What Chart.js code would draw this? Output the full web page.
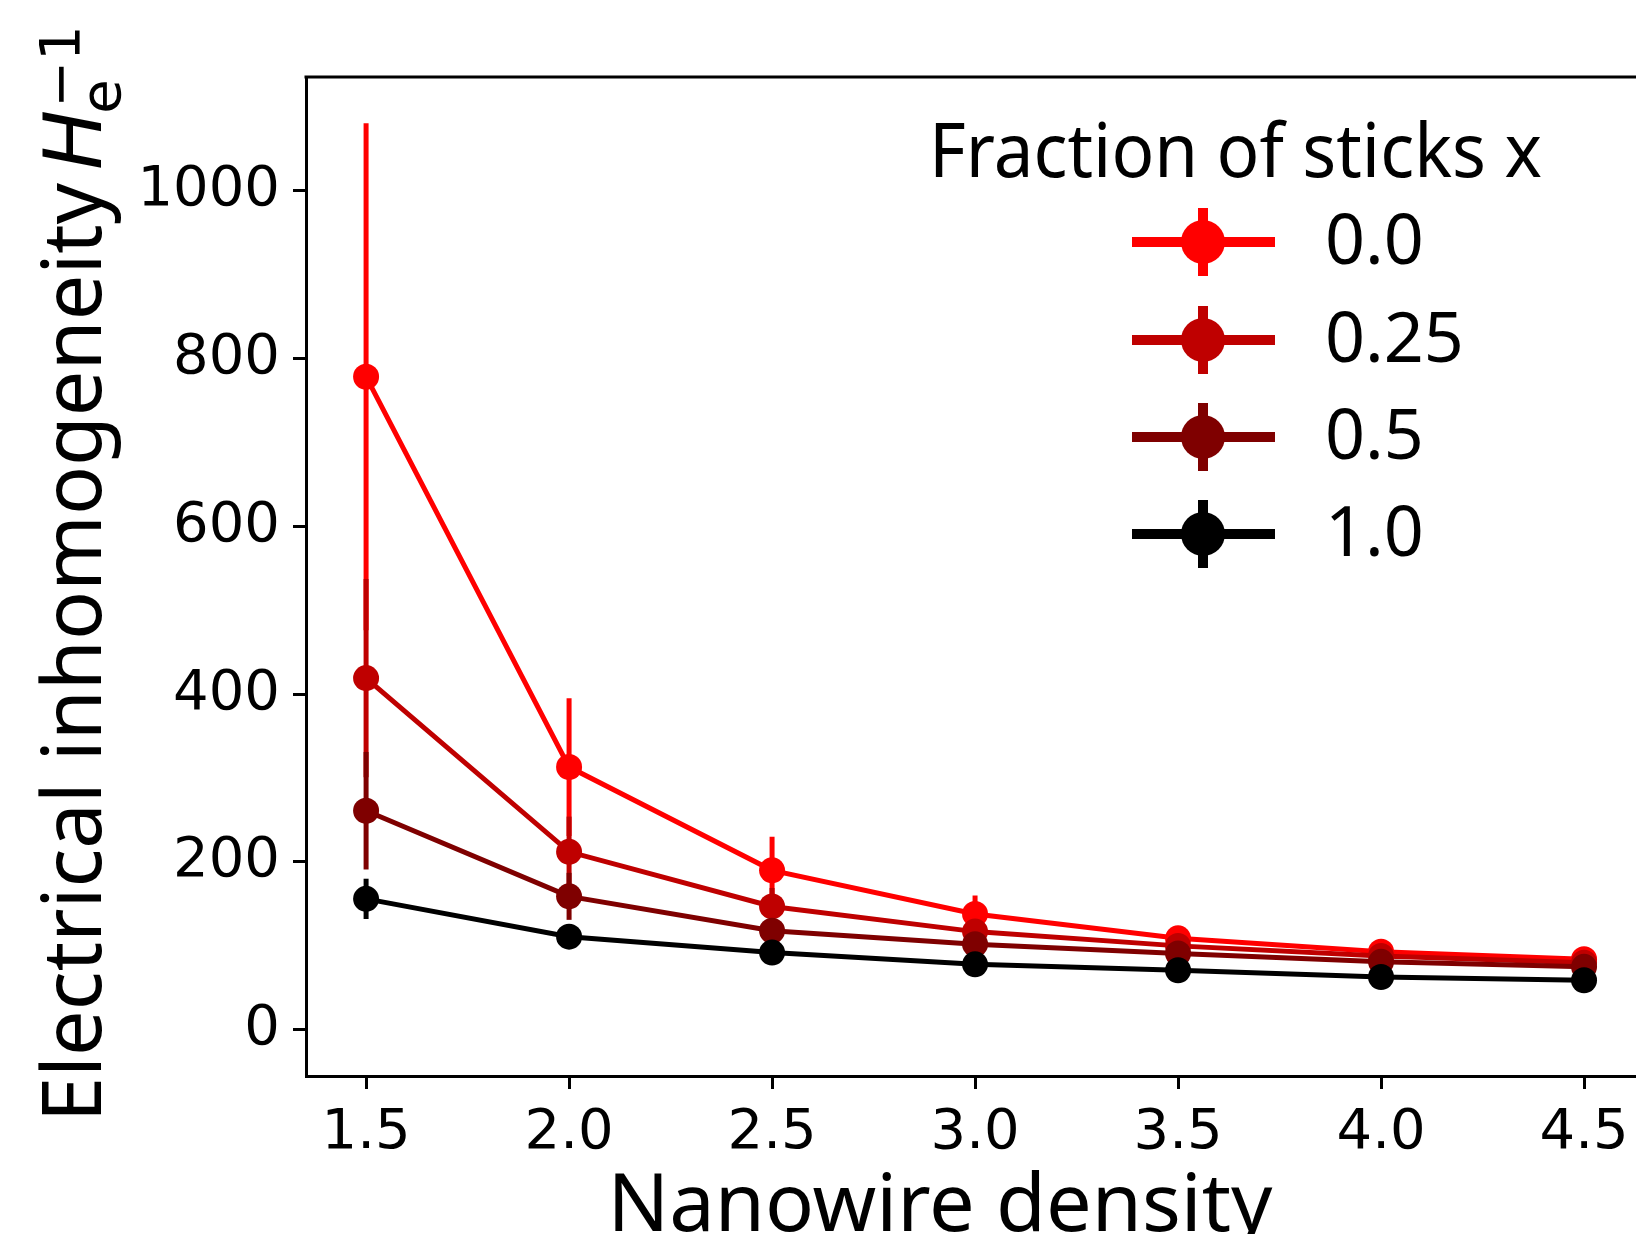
<!DOCTYPE html>
<html>
<head>
<meta charset="utf-8">
<script src="https://cdn.jsdelivr.net/npm/chart.js@4.4.0/dist/chart.umd.min.js"></script>
<style>
  html, body { margin: 0; padding: 0; background: #fff; }
  #wrap { width: 1636px; height: 1234px; position: relative; }
</style>
</head>
<body>
<div id="wrap"><canvas id="chart" width="1636" height="1234"></canvas></div>
<script>
  // nanowire density on the x axis
  const densities = [1.5, 2.0, 2.5, 3.0, 3.5, 4.0, 4.5];

  // one series per fraction of sticks
  const fractions = ['0.0', '0.25', '0.5', '1.0'];
  const colors = ['#ff0000', '#bf0000', '#7f0000', '#000000'];

  const h00 = [778, 313, 190, 138, 109, 93, 84];
  const err00 = [302, 82, 40, 22, 10, 6, 5];

  const h025 = [419, 212, 147, 117, 100, 88, 80];
  const err025 = [118, 42, 22, 12, 7, 5, 4];

  const h05 = [261, 159, 118, 102, 91, 81, 75];
  const err05 = [70, 28, 14, 8, 5, 4, 3];

  const h10 = [156, 111, 92, 78, 71, 63, 59];
  const err10 = [24, 10, 6, 4, 3, 2, 2];

  const values = [h00, h025, h05, h10];
  const errors = [err00, err025, err05, err10];

  const yTicks = [0, 200, 400, 600, 800, 1000];

  const legendTitle = 'Fraction of sticks x';
  const xTitle = 'Nanowire density';
  const yTitle = 'Electrical inhomogeneity';

  // error bars, drawn just before each series so later series sit on top
  const errorBars = {
    id: 'errorBars',
    beforeDatasetDraw(chart, args) {
      const i = args.index;
      const ctx = chart.ctx;
      const xs = chart.scales.x, ys = chart.scales.y;
      const a = chart.chartArea;
      ctx.save();
      ctx.beginPath();
      ctx.rect(a.left, a.top, a.right - a.left, a.bottom - a.top);
      ctx.clip();
      ctx.strokeStyle = colors[i];
      ctx.lineWidth = 5;
      densities.forEach(function(d, k) {
        const px = xs.getPixelForValue(d);
        ctx.beginPath();
        ctx.moveTo(px, ys.getPixelForValue(values[i][k] + errors[i][k]));
        ctx.lineTo(px, ys.getPixelForValue(values[i][k] - errors[i][k]));
        ctx.stroke();
      });
      ctx.restore();
    }
  };

  // top spine, axis titles and the legend
  const decorations = {
    id: 'decorations',
    afterDraw(chart) {
      const ctx = chart.ctx;
      const a = chart.chartArea;
      ctx.save();
      ctx.strokeStyle = '#000';
      ctx.lineWidth = 3;
      ctx.beginPath();
      ctx.moveTo(a.left - 1.5, a.top);
      ctx.lineTo(1636, a.top);
      ctx.stroke();

      ctx.fillStyle = '#000';
      ctx.textBaseline = 'alphabetic';
      ctx.textAlign = 'left';

      // x title
      ctx.font = '80px "Noto Sans"';
      let w = ctx.measureText(xTitle).width;
      ctx.save();
      ctx.translate(940 - 665 / 2, 1231);
      ctx.scale(665 / w, 1);
      ctx.fillText(xTitle, 0, 0);
      ctx.restore();

      // y title with H_e^-1
      ctx.save();
      ctx.translate(101, 1122);
      ctx.rotate(-Math.PI / 2);
      ctx.font = '82px "Noto Sans"';
      w = ctx.measureText(yTitle).width;
      ctx.save();
      ctx.scale(939 / w, 1);
      ctx.fillText(yTitle, 0, 0);
      ctx.restore();
      let x = 952;
      ctx.font = 'oblique 80px "DejaVu Sans"';
      ctx.fillText('H', x, 0);
      x += ctx.measureText('H').width;
      ctx.font = '56px "DejaVu Sans"';
      ctx.fillText('e', x - 4, 19);
      ctx.fillText('\u22121', x + 2, -22);
      ctx.restore();

      // legend
      ctx.font = '75px "Noto Sans"';
      w = ctx.measureText(legendTitle).width;
      ctx.save();
      ctx.translate(929, 177);
      ctx.scale(613 / w, 1);
      ctx.fillText(legendTitle, 0, 0);
      ctx.restore();

      const rows = [242, 340, 437, 534];
      fractions.forEach(function(f, i) {
        const y = rows[i];
        ctx.strokeStyle = colors[i];
        ctx.fillStyle = colors[i];
        ctx.lineWidth = 10;
        ctx.beginPath();
        ctx.moveTo(1132, y);
        ctx.lineTo(1275, y);
        ctx.moveTo(1203, y - 34);
        ctx.lineTo(1203, y + 34);
        ctx.stroke();
        ctx.beginPath();
        ctx.arc(1203, y, 22, 0, Math.PI * 2);
        ctx.fill();
        ctx.fillStyle = '#000';
        ctx.font = '70px "Noto Sans"';
        ctx.textBaseline = 'middle';
        ctx.fillText(f, 1325, y + 2);
        ctx.textBaseline = 'alphabetic';
      });
      ctx.restore();
    }
  };

  const datasets = fractions.map(function(f, i) {
    return {
      label: f,
      data: densities.map(function(d, k) { return { x: d, y: values[i][k] }; }),
      borderColor: colors[i],
      backgroundColor: colors[i],
      pointBackgroundColor: colors[i],
      borderWidth: 5,
      pointRadius: 13,
      pointBorderWidth: 0,
      pointHoverRadius: 13,
      order: fractions.length - i,
      tension: 0
    };
  });

  const config = {
    type: 'line',
    data: { datasets: datasets },
    options: {
      responsive: false,
      animation: false,
      events: [],
      layout: { autoPadding: false, padding: { top: 77, left: 0, right: 0, bottom: 0 } },
      plugins: {
        legend: { display: false },
        tooltip: { enabled: false }
      },
      scales: {
        x: {
          type: 'linear',
          min: 1.352,
          max: 4.628,
          afterFit: function(scale) {
            scale.height = 158;
            // axes run off the right edge, as in the original figure
            scale.paddingLeft = 0;
            scale.paddingRight = 0;
          },
          border: { display: true, color: '#000', width: 3 },
          grid: { drawOnChartArea: false, drawTicks: true, tickLength: 13, tickWidth: 3, color: '#000' },
          ticks: {
            stepSize: 0.5,
            includeBounds: false,
            autoSkip: false,
            maxRotation: 0,
            padding: 11,
            color: '#000',
            font: { family: 'DejaVu Sans', size: 56 },
            callback: function(v) { return v.toFixed(1); }
          }
        },
        y: {
          type: 'linear',
          min: -55,
          max: 1135,
          afterFit: function(scale) { scale.width = 306; },
          afterBuildTicks: function(scale) {
            scale.ticks = yTicks.map(function(v) { return { value: v }; });
          },
          border: { display: true, color: '#000', width: 3 },
          grid: { drawOnChartArea: false, drawTicks: true, tickLength: 13, tickWidth: 3, color: '#000' },
          ticks: {
            padding: 13,
            color: '#000',
            font: { family: 'DejaVu Sans', size: 56 },
            callback: function(v) { return String(v); }
          }
        }
      }
    },
    plugins: [errorBars, decorations]
  };

  const chart = new Chart(document.getElementById('chart').getContext('2d'), config);
</script>
</body>
</html>
